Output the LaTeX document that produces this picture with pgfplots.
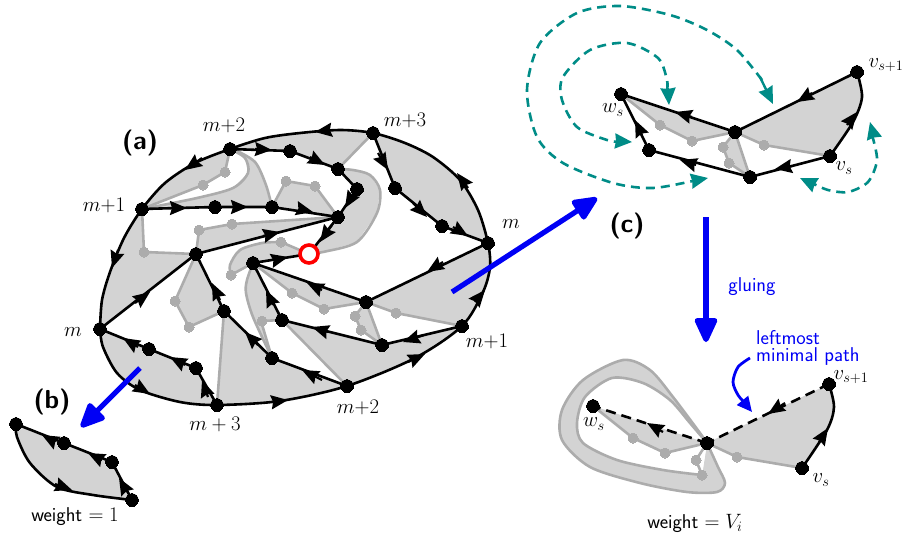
\documentclass[border=0pt]{standalone}
\usepackage{pgfplots}
\pgfplotsset{compat=1.18}
\usetikzlibrary{arrows.meta}
\definecolor{lg}{RGB}{211,211,211}
\definecolor{mg}{RGB}{172,172,172}
\definecolor{tl}{RGB}{0,140,135}
\definecolor{bl}{RGB}{0,0,245}
\DeclareMathSizes{20}{20}{15}{11}
\newcommand\fp[1]{\addplot[forget plot,draw=none,fill=lg] coordinates {#1};}
\newcommand\gl[1]{\addplot[forget plot,draw=mg,line width=2.6pt,line join=round] coordinates {#1};}
\newcommand\gc[1]{\addplot[forget plot,draw=mg,line width=2.6pt,smooth,line join=round] coordinates {#1};}
\newcommand\bk[1]{\addplot[forget plot,draw=black,line width=2.6pt,line join=round] coordinates {#1};}
\newcommand\bc[1]{\addplot[forget plot,draw=black,line width=2.6pt,smooth,line join=round] coordinates {#1};}
\newcommand\bd[1]{\addplot[forget plot,draw=black,line width=2.6pt,dash pattern=on 10pt off 6pt] coordinates {#1};}
\newcommand\ar[4]{\addplot[forget plot,draw=black,line width=2.2pt,-{Stealth[length=17pt,width=14pt,inset=2pt]}] coordinates {(#1,#2)(#3,#4)};}
\newcommand\tc[1]{\addplot[forget plot,draw=tl,line width=2.6pt,smooth,dash pattern=on 9pt off 6pt] coordinates {#1};}
\newcommand\ta[4]{\addplot[forget plot,draw=tl,line width=2.4pt,-{Stealth[length=17pt,width=15pt,inset=1pt]}] coordinates {(#1,#2)(#3,#4)};}
\newcommand\ba[1]{\addplot[forget plot,draw=bl,line width=5.2pt,-{Stealth[length=28pt,width=24pt,inset=0pt,round]}] coordinates {#1};}
\newcommand\gm[1]{\addplot[forget plot,only marks,mark=*,mark size=5pt,mark options={fill=mg,draw=mg,line width=0pt}] coordinates {#1};}
\newcommand\km[1]{\addplot[forget plot,only marks,mark=*,mark size=6.4pt,mark options={fill=black,draw=black,line width=0pt}] coordinates {#1};}
\newcommand\lb[3]{\node[font=\fontsize{20}{22}\selectfont,inner sep=0pt] at (axis cs:#1,#2) {#3};}
\newcommand\st[3]{\node[font=\fontsize{20}{22}\selectfont\sffamily,inner sep=0pt] at (axis cs:#1,#2) {#3};}
\newcommand\bt[3]{\node[font=\fontsize{26}{28}\selectfont\sffamily\bfseries,inner sep=0pt] at (axis cs:#1,#2) {#3};}
\begin{document}
\begin{tikzpicture}
\path[use as bounding box] (0,0) rectangle (906pt,539pt);
\begin{axis}[at={(0,0)},anchor=south west,width=906pt,height=539pt,scale only axis,hide axis,
  xmin=0,xmax=906,ymin=0,ymax=539,y dir=reverse,clip=false,enlargelimits=false]
% ---- (a) fills
\fp{(100,329)(102,300)(110,272)(124,238)(142,209)(144,252)(196,254)}
\fp{(142,209)(165,183)(195,163)(230,149)(225,172)(203,185)}
\fp{(142,209)(197,198)(233,188)(248,173)(245,158)(235,150)(255,162)(266,185)(272,207)}
\fp{(272,207)(286,181)(315,186)(338,217)}
\fp{(230,149)(265,138)(300,133)(340,130)(373,133)(338,169)(290,151)}
\fp{(373,133)(405,143)(433,157)(460,180)(478,210)(488,242)(442,226)(395,188)}
\fp{(338,169)(353,170)(370,175)(380,190)(377,213)(357,242)(323,252)(309,254)(338,217)(357,189)}
\fp{(196,254)(199,230)(232,224)(338,217)}
\fp{(253,263)(231,275)(230,265)(240,250)(262,243)(281,242)(309,254)}
\fp{(196,254)(175,301)(189,327)(224,311)}
\fp{(100,329)(149,349)(196,368)(217,405)(180,402)(140,390)(117,373)(103,347)}
\fp{(224,311)(217,405)(280,401)(347,386)(272,358)}
\fp{(282,320)(347,386)(415,358)(462,326)(382,345)}
\fp{(253,263)(247,280)(246,293)(253,317)(272,358)(261,321)(282,320)}
\fp{(253,263)(292,293)(324,309)(366,302)}
\fp{(366,302)(355,316)(361,330)(382,345)}
\fp{(366,302)(396,313)(462,326)(483,292)(490,267)(488,243)}
% ---- (a) grey
\gl{(142,209)(144,252)(196,254)}
\gl{(142,209)(203,185)(225,172)(230,149)}
\gc{(142,209)(197,198)(233,188)(248,173)(245,158)(230,149)}
\gc{(272,207)(266,185)(255,162)(235,150)}
\gl{(272,207)(286,181)(315,186)(338,217)}
\gl{(338,169)(373,133)}
\gc{(338,169)(353,170)(370,175)(380,190)(377,213)(357,242)(323,252)(309,254)}
\gl{(196,254)(199,230)(232,224)(338,217)}
\gc{(231,275)(230,265)(240,250)(262,243)(281,242)}
\gl{(231,275)(253,263)}
\gl{(281,242)(309,254)}
\gl{(196,254)(175,301)(189,327)(224,311)}
\gl{(224,311)(217,405)}
\gl{(282,320)(347,386)}
\gc{(253,263)(247,280)(246,293)(253,317)(272,358)}
\gl{(272,358)(261,321)(282,320)}
\gl{(253,263)(292,293)(324,309)(366,302)}
\gl{(366,302)(355,316)(361,330)(382,345)}
\gl{(366,302)(382,345)}
\gl{(366,302)(396,313)(462,326)}
% ---- (a) outline
\bc{(100,329)(102,300)(110,272)(124,238)(142,209)(165,183)(195,163)(230,149)(265,138)(300,133)(340,130)(373,133)(405,143)(433,157)(460,180)(478,210)(488,243)(490,267)(483,292)(462,326)(415,358)(347,386)(280,401)(217,405)(180,402)(140,390)(117,373)(103,347)(100,329)}
\bk{(230,149)(290,151)(338,169)(357,189)(338,217)(309,254)}
\bk{(142,209)(215,207)(272,207)(338,217)}
\bk{(196,254)(338,217)}
\bk{(253,263)(309,254)}
\bk{(373,133)(395,188)(442,226)(488,243)}
\bk{(488,243)(366,302)(253,263)}
\bk{(462,326)(382,345)(282,320)(253,263)}
\bk{(347,386)(272,358)(224,311)(196,254)}
\bk{(100,329)(196,254)}
\bk{(217,405)(196,368)(149,349)(100,329)}
% ---- (a) arrows
\ar{255}{149}{272}{150}
\ar{202}{158}{185}{170}
\ar{118}{250}{112}{268}
\ar{173}{208}{187}{208}
\ar{234}{207}{248}{207}
\ar{263}{236}{280}{232}
\ar{275}{260}{288}{257}
\ar{330}{130}{315}{132}
\ar{310}{157}{325}{165}
\ar{354}{193}{345}{208}
\ar{300}{209}{313}{212}
\ar{332}{225}{320}{242}
\ar{378}{153}{388}{170}
\ar{413}{203}{427}{217}
\ar{453}{227}{468}{236}
\ar{468}{188}{457}{173}
\ar{443}{262}{427}{272}
\ar{322}{290}{307}{283}
\ar{424}{335}{403}{342}
\ar{328}{332}{312}{327}
\ar{273}{305}{266}{290}
\ar{322}{380}{302}{370}
\ar{475}{302}{485}{290}
\ar{408}{362}{425}{354}
\ar{273}{402}{288}{400}
\ar{258}{345}{245}{332}
\ar{220}{300}{212}{283}
\ar{135}{303}{150}{292}
\ar{185}{365}{170}{357}
\ar{138}{347}{123}{338}
\ar{208}{397}{202}{380}
\ar{135}{385}{150}{394}
% ---- (a) marks
\gm{(225,172)(203,185)(144,252)(199,230)(232,224)(281,242)(286,181)(315,186)(175,301)(189,327)(262,321)(231,275)(292,293)(324,309)(396,313)(355,316)(361,330)}
\km{(230,149)(290,151)(142,209)(215,207)(272,207)(196,254)(253,263)(373,133)(338,169)(357,189)(338,217)(395,188)(442,226)(488,243)(224,311)(100,329)(149,349)(196,368)(217,405)(272,358)(282,320)(366,302)(382,345)(462,326)(347,386)}
\addplot[forget plot,only marks,mark=*,mark size=9pt,mark options={fill=white,draw=red,line width=3.6pt}] coordinates {(309,254)};
% ---- (b)
\fp{(16,424)(64,443)(112,462)(132,500)(93,495)(57,487)(30,463)(17,437)}
\bk{(16,424)(64,443)(112,462)(132,500)}
\bc{(16,424)(17,437)(30,463)(57,487)(93,495)(132,500)}
\ar{55}{442}{42}{435}
\ar{102}{460}{88}{453}
\ar{127}{492}{119}{478}
\ar{55}{484}{72}{490}
\km{(16,424)(64,443)(112,462)(132,500)}
% ---- (c)
\fp{(621,94)(735,132)(692,141)(660,125)}
\fp{(735,132)(857,72)(862,97)(853,122)(830,156)(764,145)}
\fp{(735,132)(723,147)(729,163)(750,177)}
\gl{(621,94)(660,125)(692,141)(735,132)}
\gl{(735,132)(764,145)(830,156)}
\gl{(735,132)(723,147)(729,163)(750,177)}
\gl{(735,132)(750,177)}
\bk{(857,72)(735,132)(621,94)(649,150)(750,177)(830,156)}
\bc{(830,156)(853,122)(862,97)(857,72)}
\ar{812}{93}{797}{102}
\ar{692}{117}{675}{112}
\ar{642}{135}{635}{120}
\ar{696}{165}{680}{160}
\ar{792}{166}{775}{169}
\ar{847}{125}{857}{112}
\gm{(660,125)(692,141)(764,145)(723,147)(729,163)}
\km{(621,94)(735,132)(857,72)(830,156)(750,177)(649,150)}
\tc{(762,80)(737,50)(707,30)(670,15)(620,6)(577,13)(540,43)(527,90)(537,137)(563,163)(613,183)(653,188)(697,180)}
\ta{760}{77}{773}{104}
\ta{692}{181}{708}{178}
\tc{(667,90)(667,80)(658,58)(627,43)(590,50)(563,77)(562,100)(577,127)(607,140)(620,142)}
\ta{668}{88}{669}{105}
\ta{616}{141}{632}{142}
\tc{(872,135)(877,160)(868,182)(848,192)(828,190)(812,183)}
\ta{874}{137}{870}{122}
\ta{815}{185}{800}{178}
% ---- glued
\addplot[forget plot,draw=mg,fill=lg,line width=2.6pt,smooth] coordinates {(707,443)(718,467)(725,483)(717,492)(687,492)(640,483)(590,467)(562,440)(562,410)(583,380)(623,360)(650,370)(673,397)(700,433)(707,443)};
\addplot[forget plot,draw=mg,fill=white,line width=2.6pt,smooth] coordinates {(707,443)(690,423)(670,400)(643,383)(612,378)(585,397)(577,423)(583,443)(617,460)(663,470)(702,475)};
\addplot[forget plot,draw=none,fill=white] coordinates {(702,475)(696,460)(707,443)};
\fp{(593,406)(707,443)(665,453)(633,438)}
\fp{(707,443)(829,384)(834,407)(827,430)(802,468)(737,457)}
\gl{(593,406)(633,438)(665,453)(707,443)}
\gl{(707,443)(737,457)(802,468)}
\gl{(707,443)(696,460)(702,475)}
\bd{(829,384)(707,443)}
\bd{(707,443)(593,406)}
\bc{(802,468)(827,430)(834,407)(829,384)}
\ar{785}{403}{768}{414}
\ar{663}{432}{647}{423}
\ar{819}{442}{828}{428}
\gm{(633,438)(665,453)(737,457)(696,460)(702,475)}
\km{(593,406)(707,443)(829,384)(802,468)}
% ---- blue
\ba{(140,368)(81,427)}
\ba{(452,292)(597,198)}
\ba{(706,217)(706,342)}
\addplot[forget plot,draw=bl,line width=2.8pt,smooth] coordinates {(750,358)(738,367)(733,382)(738,395)(745,403)};
\addplot[forget plot,draw=bl,line width=2.8pt,-{Stealth[length=15pt,width=14pt,inset=0pt]}] coordinates {(743,401)(752,412)};
% ---- text
\bt{140}{143}{(a)}
\bt{52}{402}{(b)}
\bt{627}{226}{(c)}
\lb{224}{125}{$m{+}2$}
\lb{405}{120}{$m{+}3$}
\lb{104}{205}{$m{+}1$}
\lb{511}{224}{$m$}
\lb{73}{332}{$m$}
\lb{487}{341}{$m{+}1$}
\lb{215}{424}{$m+3$}
\lb{358}{407}{$m{+}2$}
\lb{613}{110}{$w_s$}
\lb{886}{65}{$v_{s+1}$}
\lb{844}{168}{$v_s$}
\lb{594}{424}{$w_s$}
\lb{851}{377}{$v_{s+1}$}
\lb{821}{480}{$v_s$}
\st{75}{517}{weight $=1$}
\st{695}{523}{weight $=V_i$}
\node[font=\fontsize{20}{22}\selectfont\sffamily,text=bl,inner sep=0pt] at (axis cs:752,287) {gluing};
\node[font=\fontsize{20}{22}\selectfont\sffamily,text=bl,inner sep=0pt,anchor=west] at (axis cs:756,338) {leftmost};
\node[font=\fontsize{20}{22}\selectfont\sffamily,text=bl,inner sep=0pt,anchor=west] at (axis cs:756,357) {minimal path};
\end{axis}
\end{tikzpicture}
\end{document}
